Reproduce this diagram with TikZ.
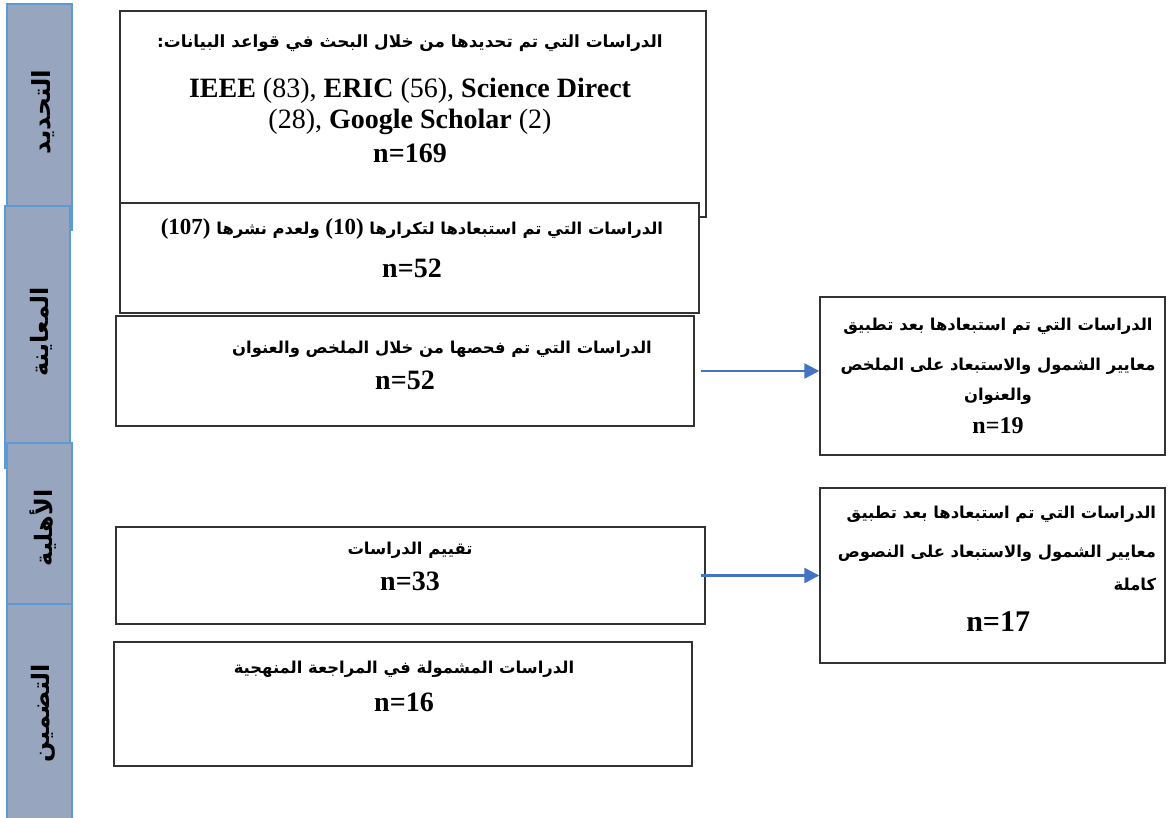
\documentclass[tikz,border=0pt]{standalone}
\usepackage{fontspec}
\setmainfont{Liberation Serif}
\newfontfamily\arabicfont[Script=Arabic]{DejaVu Sans}
\TeXXeTstate=1
\usetikzlibrary{arrows.meta,positioning,fit}
\definecolor{barfill}{RGB}{151,166,190}
\definecolor{barline}{RGB}{91,155,213}
\definecolor{flowblue}{RGB}{68,114,196}
\newcommand{\artxt}[2][8.2]{\leavevmode{\arabicfont\bfseries\fontsize{#1}{#1}\selectfont\beginR #2\endR}}
\newcommand{\ltrnum}[1]{\beginL{\rmfamily\fontsize{11.5}{14}\selectfont #1}\endL}
\begin{document}
\begin{tikzpicture}[x=0.5pt,y=-0.5pt,
    box/.style={draw=black!80, fill=white, line width=0.7pt, inner sep=0pt},
    bar/.style={draw=barline, fill=barfill, line width=1.3pt, inner sep=0pt},
    barlbl/.style={rotate=90},
    lbl/.style={align=center, font=\fontsize{14}{17}\selectfont\bfseries},
    flow/.style={draw=flowblue, line width=1.2pt, -{Triangle[length=7.5pt,width=7.5pt]}}]
\useasboundingbox (0,0) rectangle (1169,818);

\node[bar, fit={(7,4) (72,230)}] (s1) {};
\node[bar, fit={(5,206) (70,468)}] (s2) {};
\node[bar, fit={(7,443) (72,667)}] (s3) {};
\node[bar, fit={(7,604) (72,830)}] (s4) {};
\node[barlbl] (s1t) at (43,112) {\artxt[12.5]{التحديد}};
\node[barlbl] (s2t) at (41,332) {\artxt[12]{المعاينة}};
\node[barlbl] (s3t) at (43,528) {\artxt[12]{الأهلية}};
\node[barlbl] (s4t) at (43,713) {\artxt[12]{التضمين}};

\node[box, fit={(120,11) (706,217)}] (b1) {};
\node[box, fit={(120,203) (699,313)}] (b2) {};
\node[box, fit={(116,316) (694,426)}] (b3) {};
\node[box, fit={(820,297) (1165,455)}] (b4) {};
\node[box, fit={(820,488) (1165,663)}] (b5) {};
\node[box, fit={(116,527) (705,624)}] (b6) {};
\node[box, fit={(114,642) (692,766)}] (b7) {};

\node[lbl] (t1) at (410,99) {\artxt[8.4]{الدراسات التي تم تحديدها من خلال البحث في قواعد البيانات:}\\[8pt]
  IEEE {\mdseries(83),} ERIC {\mdseries(56),} Science Direct\\[-1.5pt]
  {\mdseries(28),} Google Scholar {\mdseries(2)}\\
  n=169};
\node[lbl] (t2) at (412,248) {\artxt{الدراسات التي تم استبعادها لتكرارها \ltrnum{(10)} ولعدم نشرها \ltrnum{(107)}}\\[4.5pt] n=52};
\node[lbl] (t3) at (405,365) {\hspace*{37pt}\artxt{الدراسات التي تم فحصها من خلال الملخص والعنوان}\\[1pt] n=52};
\node[lbl, font=\fontsize{12}{15}\selectfont\bfseries] (t4) at (998,376) {\artxt{الدراسات التي تم استبعادها بعد تطبيق}\\[5pt]
  \artxt{معايير الشمول والاستبعاد على الملخص}\\
  \artxt{والعنوان}\\[1.5pt]
  n=19};
\node[lbl, align=right] (t5) at (997,569) {\artxt{الدراسات التي تم استبعادها بعد تطبيق}\\[2.5pt]
  \artxt{معايير الشمول والاستبعاد على النصوص}\\[-0.5pt]
  \artxt{كاملة}\\[3.5pt]
  \makebox[158pt]{\fontsize{15}{18}\selectfont n=17}};
\node[lbl] (t6) at (410,566) {\artxt{تقييم الدراسات}\\[1pt] n=33};
\node[lbl] (t7) at (404,686) {\artxt{الدراسات المشمولة في المراجعة المنهجية}\\[2pt] n=16};

\draw[flow] ([xshift=3pt]b3.east) -- (b3.east -| b4.west);
\draw[flow] ([xshift=-2.5pt]b6.east) -- (b6.east -| b5.west);
\end{tikzpicture}
\end{document}
